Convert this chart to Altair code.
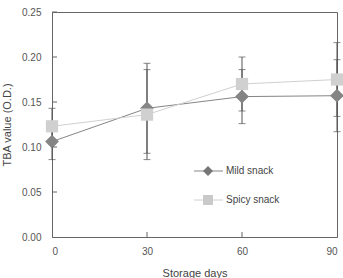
import altair as alt
import pandas as pd

# Storage time (days) and TBA values (O.D.) with their error margins
days = [0, 30, 60, 90]
mild = [0.106, 0.143, 0.156, 0.157]
mild_err = [0.02, 0.05, 0.03, 0.04]
spicy = [0.123, 0.136, 0.170, 0.175]
spicy_err = [0.02, 0.05, 0.03, 0.041]
series_names = ["Mild snack", "Spicy snack"]
y_ticks = [0.0, 0.05, 0.10, 0.15, 0.20, 0.25]
x_ticks = [0, 30, 60, 90]

rows = []
for name, vals, errs in [(series_names[0], mild, mild_err), (series_names[1], spicy, spicy_err)]:
    for d, v, e in zip(days, vals, errs):
        rows.append({"day": d, "series": name, "tba": v, "lo": v - e, "hi": v + e})
df = pd.DataFrame(rows)

W, H = 285, 225
AXIS_GREY = "#666666"
ERR_GREY = "#555555"

x_scale = alt.Scale(domain=[0, 90], nice=False)
y_scale = alt.Scale(domain=[0, 0.25], nice=False)

x_enc = alt.X("day:Q", scale=x_scale, axis=alt.Axis(
    values=x_ticks, title="Storage days", grid=False, ticks=False, labelPadding=9,
    labelFontSize=10, titleFontSize=11, titleFontWeight="normal",
    titleY=36, titleBaseline="middle", domainColor=AXIS_GREY,
    labelColor="#555555", titleColor="#444444"))
y_enc = alt.Y("tba:Q", scale=y_scale, axis=alt.Axis(
    values=y_ticks, format=".2f", title="TBA value (O.D.)", grid=False, ticks=False,
    labelPadding=11, labelFontSize=10, titleFontSize=11, titleFontWeight="normal",
    titleX=-45, titleY=H / 2, titleAngle=-90, titleBaseline="middle",
    domainColor=AXIS_GREY, labelColor="#555555", titleColor="#444444"))

line_color = alt.Color("series:N", scale=alt.Scale(domain=series_names, range=["#858585", "#d0d0d0"]), legend=None)
fill_color = alt.Color("series:N", scale=alt.Scale(domain=series_names, range=["#767676", "#c9c9c9"]), legend=None)
shape = alt.Shape("series:N", scale=alt.Scale(domain=series_names, range=["diamond", "square"]), legend=None)
size = alt.Size("series:N", scale=alt.Scale(domain=series_names, range=[190, 150]), legend=None)

base = alt.Chart(df)

lines = base.mark_line(strokeWidth=1).encode(x=x_enc, y=y_enc, color=line_color)

err_rules = base.mark_rule(color=ERR_GREY, strokeWidth=1).encode(
    x="day:Q", y="lo:Q", y2="hi:Q")
caps_lo = base.mark_tick(orient="horizontal", size=7, thickness=1, color=ERR_GREY).encode(
    x="day:Q", y="lo:Q")
caps_hi = base.mark_tick(orient="horizontal", size=7, thickness=1, color=ERR_GREY).encode(
    x="day:Q", y="hi:Q")

points = base.mark_point(filled=True, opacity=1, strokeWidth=0).encode(
    x="day:Q", y="tba:Q", color=fill_color, shape=shape, size=size)

# Inward-pointing axis ticks
ytick_df = pd.DataFrame({"v": y_ticks[1:]})
yticks = alt.Chart(ytick_df).mark_rule(color=AXIS_GREY).encode(
    y=alt.Y("v:Q", scale=y_scale), x=alt.value(0), x2=alt.value(5))
xtick_df = pd.DataFrame({"d": x_ticks[1:3]})
xticks = alt.Chart(xtick_df).mark_rule(color=AXIS_GREY).encode(
    x=alt.X("d:Q", scale=x_scale), y=alt.value(H), y2=alt.value(H - 5))

# Legend: line + marker + label for each series
one = alt.Data(values=[{"k": 0}])
LX0, LX1, LXM, LXT = 142, 171, 156, 174
L1, L2 = 159, 188
legend = [
    alt.Chart(one).mark_rule(color="#858585", strokeWidth=1).encode(x=alt.value(LX0), x2=alt.value(LX1), y=alt.value(L1)),
    alt.Chart(one).mark_point(shape="diamond", filled=True, opacity=1, color="#767676", size=100, strokeWidth=0).encode(x=alt.value(LXM), y=alt.value(L1)),
    alt.Chart(one).mark_text(text=series_names[0], align="left", baseline="middle", fontSize=10, color="#444444").encode(x=alt.value(LXT), y=alt.value(L1)),
    alt.Chart(one).mark_rule(color="#d0d0d0", strokeWidth=1).encode(x=alt.value(LX0), x2=alt.value(LX1), y=alt.value(L2)),
    alt.Chart(one).mark_point(shape="square", filled=True, opacity=1, color="#c9c9c9", size=100, strokeWidth=0).encode(x=alt.value(LXM), y=alt.value(L2)),
    alt.Chart(one).mark_text(text=series_names[1], align="left", baseline="middle", fontSize=10, color="#444444").encode(x=alt.value(LXT), y=alt.value(L2)),
]

chart = alt.layer(lines, err_rules, caps_lo, caps_hi, points, yticks, xticks, *legend).properties(
    width=W, height=H,
    autosize=alt.AutoSizeParams(type="none"),
    padding={"left": 52, "top": 12, "right": 6, "bottom": 41},
).configure(font="Liberation Sans").configure_view(stroke=AXIS_GREY, strokeWidth=1)

chart.save("out.html", embed_options={"renderer": "svg", "actions": False})
